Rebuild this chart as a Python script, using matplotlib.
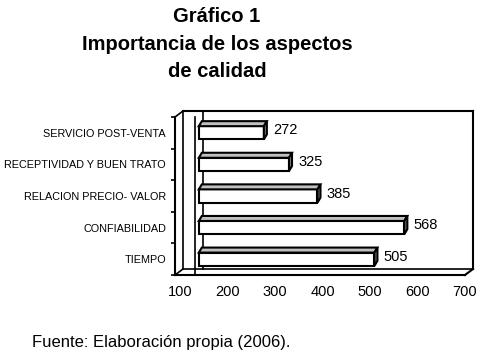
import numpy as np
import matplotlib.pyplot as plt
from matplotlib.patches import Polygon
from matplotlib.transforms import Affine2D

plt.rcParams['font.family'] = ['Liberation Sans', 'DejaVu Sans']

categories = ["TIEMPO", "CONFIABILIDAD", "RELACION PRECIO- VALOR",
              "RECEPTIVIDAD Y BUEN TRATO", "SERVICIO POST-VENTA"]
values = [505, 568, 385, 325, 272]
x_ticks = [100, 200, 300, 400, 500, 600, 700]

# excel style 3d box (offsets in pixels, walls in value units)
W, H = 480, 355
WALL_X = 89
WALL_IN = 131
BAR_BASE = 135
BACK = (8, 6)
BAR_SHIFT = (2, 0)
BAR_DEPTH = (3, 5)
BAR_H = 0.42
LW = 1.5

fig = plt.figure(figsize=(W / 100, H / 100), dpi=100)
ax = fig.add_axes([175 / W, 80 / H, 290 / W, 158 / H])
ax.set_xlim(WALL_X, 700)
ax.set_ylim(-0.5, 4.5)
ax.patch.set_visible(False)


def shift(x, y, d):
    pts = np.column_stack([np.atleast_1d(x), np.atleast_1d(y)]).astype(float)
    p = ax.transData.transform(pts) + np.array(d, dtype=float)
    return ax.transData.inverted().transform(p)


def line(a, b, lw=1.2):
    ax.plot([a[0], b[0]], [a[1], b[1]], color='black', lw=lw,
            clip_on=False, solid_capstyle='projecting')


y0, y1 = -0.5, 4.5
bk = shift([WALL_X, WALL_X, WALL_IN, WALL_IN, 700, 700],
           [y0, y1, y0, y1, y0, y1], BACK)

# left wall
line((WALL_X, y1), bk[1])
line(bk[0], bk[1])
line((WALL_X, y0), bk[0])
line((WALL_IN, y0), (WALL_IN, y1))
line(bk[2], bk[3])
# back wall and floor
line(bk[1], bk[5], LW)
line(bk[5], bk[4], LW)
line(bk[0], bk[4])
line((700, y0), bk[4], LW)

# bars
ypos = np.arange(len(values))
vals = np.array(values)
bar_tr = ax.transData + Affine2D().translate(*BAR_SHIFT)
ax.barh(ypos, vals - BAR_BASE, left=BAR_BASE, height=BAR_H, color='white',
        edgecolor='black', linewidth=LW, transform=bar_tr, zorder=3)
d2 = (BAR_SHIFT[0] + BAR_DEPTH[0], BAR_SHIFT[1] + BAR_DEPTH[1])
for y, v in zip(ypos, vals):
    xs = [BAR_BASE, v, v, BAR_BASE]
    ys = [y - BAR_H / 2, y - BAR_H / 2, y + BAR_H / 2, y + BAR_H / 2]
    f = shift(xs, ys, BAR_SHIFT)
    b = shift(xs, ys, d2)
    ax.add_patch(Polygon([f[3], f[2], b[2], b[3]], closed=True, facecolor='#c0c0c0',
                         edgecolor='black', lw=LW, zorder=3))
    ax.add_patch(Polygon([f[1], b[1], b[2], f[2]], closed=True, facecolor='#808080',
                         edgecolor='black', lw=LW, zorder=3))
    lx, ly = shift(v, y, (d2[0] + 6, BAR_SHIFT[1] + BAR_DEPTH[1] / 2))[0]
    ax.text(lx, ly, str(v), ha='left', va='center', fontsize=10.5, zorder=4)

ax.spines['top'].set_visible(False)
ax.spines['right'].set_visible(False)
ax.spines['left'].set_linewidth(LW)
ax.spines['bottom'].set_linewidth(LW)

ax.set_xticks(x_ticks)
ax.tick_params(axis='x', length=0, pad=7.5, labelsize=10.5)
ax.set_yticks(ypos, categories)
ax.tick_params(axis='y', which='major', length=0, pad=6.5, labelsize=7.8)
ax.set_yticks(np.arange(-0.5, len(values), 1), minor=True)
ax.tick_params(axis='y', which='minor', length=3, width=1.2, direction='out')

fig.text(217 / W, 1 - 22 / H, "Gráfico 1", ha='center', va='baseline',
         fontsize=14.5, fontweight='bold')
fig.text(217 / W, 1 - 49.5 / H, "Importancia de los aspectos", ha='center',
         va='baseline', fontsize=14.5, fontweight='bold')
fig.text(217 / W, 1 - 77 / H, "de calidad", ha='center', va='baseline',
         fontsize=14.5, fontweight='bold')
fig.text(32 / W, 1 - 347 / H, "Fuente: Elaboración propia (2006).", ha='left',
         va='baseline', fontsize=12)

fig.savefig("out.png", dpi=100)
